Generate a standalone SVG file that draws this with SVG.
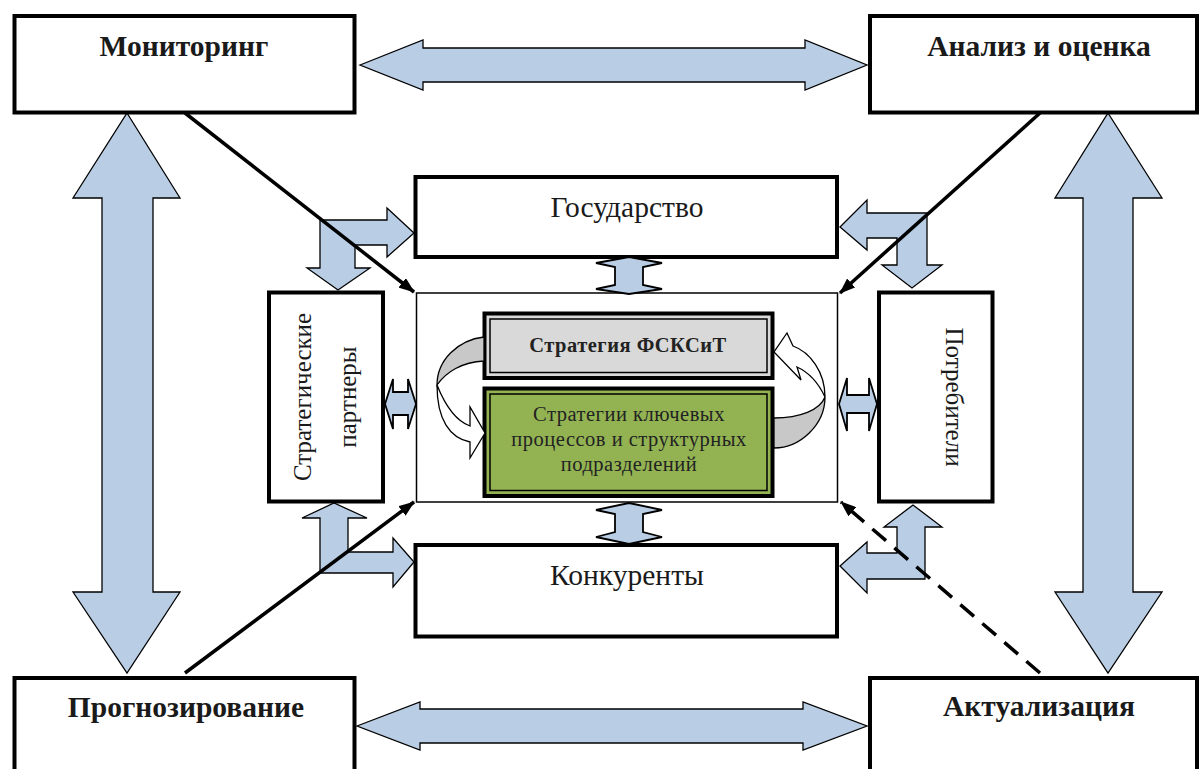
<svg xmlns="http://www.w3.org/2000/svg" width="1202" height="769" viewBox="0 0 1202 769">
<defs>
<style>
.box{fill:#fff;stroke:#000;stroke-width:4}
.thin{fill:#fff;stroke:#000;stroke-width:1.5}
.blk{fill:#b9cde5;stroke:#000;stroke-width:1.3;stroke-linejoin:miter}
.sm{fill:#b9cde5;stroke:#000;stroke-width:1.8;stroke-linejoin:miter}
.tb{font-family:"Liberation Serif","Times New Roman",serif;font-weight:bold;font-size:29.5px;text-anchor:middle;fill:#1a1a1a}
.tr{font-family:"Liberation Serif","Times New Roman",serif;font-size:29.5px;text-anchor:middle;fill:#1a1a1a}
.tv{font-family:"Liberation Serif","Times New Roman",serif;font-size:25px;text-anchor:middle;fill:#1a1a1a}
.ts{font-family:"Liberation Serif","Times New Roman",serif;font-size:20.5px;letter-spacing:0.5px;text-anchor:middle;fill:#222}
.line{stroke:#000;stroke-width:3.5;fill:none}
.curve-g{fill:#c8c8c8;stroke:#000;stroke-width:1.3}
.curve-w{fill:#fff;stroke:#000;stroke-width:1.3}
</style>
<marker id="ah" viewBox="0 0 16 12" refX="15" refY="6" markerWidth="16" markerHeight="12" markerUnits="userSpaceOnUse" orient="auto">
<path d="M0,0 L16,6 L0,12 Z" fill="#000"/>
</marker>
</defs>
<rect width="1202" height="769" fill="#fff"/>

<g id="big-arrows">
<polygon class="blk" points="360,65 423,40 423,48 805,48 805,40 867,65 805,90 805,82 423,82 423,90"/>
<polygon class="blk" points="357,726 420,702 420,709 803,709 803,702 867,726 803,750 803,743 420,743 420,750"/>
<polygon class="blk" points="127,113 180,198 153,198 153,592 180,592 127,673 73,592 102,592 102,198 73,198"/>
<polygon class="blk" points="1108,113 1162,198 1133,198 1133,592 1162,592 1108,673 1055,592 1083,592 1083,198 1055,198"/>
</g>

<g id="corner-arrows">
<polygon class="blk" points="320,220 387,220 387,208 414,233 387,257 387,245 355,245 355,268 370,268 338,290 307,268 320,268"/>
<polygon class="blk" points="927,213 867,213 867,200 840,227 867,250 867,238 897,238 897,265 882,265 912,288 942,265 927,265"/>
<polygon class="blk" points="320,573 320,518 302,518 334,503 367,518 348,518 348,552 393,552 393,538 414,562 393,587 393,573"/>
<polygon class="blk" points="925,579 867,579 867,593 840,566 867,542 867,553 897,553 897,527 884,527 913,505 942,527 925,527"/>
</g>

<g id="monitoring"><rect class="box" x="14.5" y="16" width="340" height="96.5"/><text class="tb" x="184" y="56">Мониторинг</text></g>
<g id="analysis"><rect class="box" x="870" y="16" width="327" height="96.5"/><text class="tb" x="1039" y="56">Анализ и оценка</text></g>
<g id="forecasting"><rect class="box" x="14.5" y="678" width="340" height="100"/><text class="tb" x="186" y="717">Прогнозирование</text></g>
<g id="actualization"><rect class="box" x="870" y="678" width="327" height="100"/><text class="tb" x="1039" y="716">Актуализация</text></g>

<g id="state"><rect class="box" x="415.5" y="177" width="421.5" height="80"/><text class="tr" x="627" y="217" font-size="30.5">Государство</text></g>
<g id="competitors"><rect class="box" x="415.5" y="545" width="421.5" height="91.5"/><text class="tr" x="627" y="585">Конкуренты</text></g>
<g id="partners"><rect class="box" x="269" y="292.5" width="114" height="209"/>
<text class="tv" transform="translate(311,397) rotate(-90)">Стратегические</text>
<text class="tv" transform="translate(356,397) rotate(-90)">партнеры</text></g>
<g id="consumers"><rect class="box" x="879" y="292.5" width="113.5" height="209"/>
<text class="tv" transform="translate(946,397) rotate(90)">Потребители</text></g>

<g id="core"><rect class="thin" x="416.5" y="293" width="421" height="209"/></g>

<g id="small-arrows">
<polygon class="sm" points="629,257 662,263 643,267 643,285 662,289 629,294 596,289 615,285 615,267 596,263"/>
<polygon class="sm" points="629,503 662,510 643,514 643,532 662,537 629,544 596,537 615,532 615,514 596,510"/>
<polygon class="sm" points="385,404 393,379 393,392 408,392 408,379 416,404 408,429 408,415 393,415 393,429"/>
<polygon class="sm" points="839,404 847,378 847,395 869,395 869,378 877,404 869,431 869,413 847,413 847,431"/>
</g>

<g id="strategy-fsksit">
<rect x="484.5" y="313.5" width="288" height="64.5" fill="#d9d9d9" stroke="#000" stroke-width="4"/>
<rect x="490" y="319" width="277" height="53.5" fill="none" stroke="#000" stroke-width="1.5"/>
<text class="ts" x="628" y="352" font-weight="bold" letter-spacing="0">Стратегия ФСКСиТ</text>
</g>
<g id="strategy-key">
<rect x="484.5" y="388.5" width="288" height="107.5" fill="#93b352" stroke="#000" stroke-width="4"/>
<rect x="490" y="394" width="277" height="96.5" fill="none" stroke="#000" stroke-width="1.5"/>
<text class="ts" x="629" y="421">Стратегии ключевых</text>
<text class="ts" x="629" y="446">процессов и структурных</text>
<text class="ts" x="629" y="471">подразделений</text>
</g>

<g id="cycle-arrows">
<path class="curve-g" d="M484,337 C458,340 437,360 437,385 C446,372 462,362 484,361 Z"/>
<path class="curve-w" d="M437,385 C445,405 456,421 470,426 L470,407 L485,433 L470,458 L470,442 C450,438 437,420 437,385 Z"/>
<path class="curve-g" d="M774,418 C800,418 820,410 825,397 C825,425 800,448 774,448 Z"/>
<path class="curve-w" d="M825,397 C825,372 810,352 793,346 L787,333 L774,352 L801,380 L797,367 C808,372 818,382 825,397 Z"/>
</g>

<g id="connectors">
<line class="line" x1="185" y1="113" x2="414" y2="292" marker-end="url(#ah)"/>
<line class="line" x1="1040" y1="113" x2="840" y2="293" marker-end="url(#ah)"/>
<line class="line" x1="185" y1="673" x2="414" y2="502" marker-end="url(#ah)"/>
<line class="line" x1="1040" y1="673" x2="841" y2="502" stroke-dasharray="18 11" marker-end="url(#ah)"/>
</g>
</svg>
